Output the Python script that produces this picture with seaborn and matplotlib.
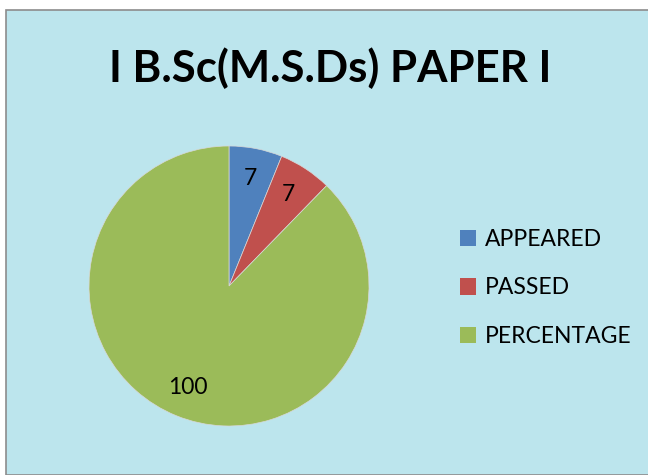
#Pie chart of I B.Sc(M.S.Ds) Paper I results
import matplotlib
matplotlib.use('Agg')
import matplotlib.pyplot as plt
from matplotlib.patches import Rectangle
import seaborn as sns

#data
categories = ['APPEARED', 'PASSED', 'PERCENTAGE']
values = [7, 7, 100]
colors = ['#4F81BD', '#C0504D', '#9BBB59']
title = 'I B.Sc(M.S.Ds) PAPER I'

sns.set_theme(style='white')
plt.rcParams['font.family'] = ['Lato', 'DejaVu Sans']

W, H = 648, 475
fig = plt.figure(figsize=(W/100, H/100), dpi=100)
fig.patch.set_facecolor('white')

#chart area with border
fig.patches.append(Rectangle((6/W, 0), 1, 1 - 10/H, transform=fig.transFigure,
                             facecolor='#BCE5ED', edgecolor='#8C8C8C', linewidth=1.2, zorder=-5))

fig.text(330/W, 1 - 68/H, title, ha='center', va='center', fontsize=31.5, fontweight='bold', color='black')

#pie axes, centre (229,286) radius 140 px
cx, cy, r = 229, 286, 140
ax = fig.add_axes([(cx - r)/W, (H - cy - r)/H, 2*r/W, 2*r/H])
ax.set_zorder(2)
total = sum(values)
wedges, texts, autotexts = ax.pie(values, colors=colors, startangle=90, counterclock=False,
                                  autopct=lambda p: '%d' % round(p*total/100), pctdistance=0.78,
                                  wedgeprops={'linewidth': 0.5, 'edgecolor': '#D8D8D8'},
                                  textprops={'fontsize': 16.5, 'color': 'black'})
ax.set_xlim(-1, 1)
ax.set_ylim(-1, 1)
ax.set_facecolor('none')

leg = fig.legend(wedges, categories, loc='center left', bbox_to_anchor=(460/W, 1 - 288/H),
                 frameon=False, fontsize=16.5, handlelength=0.7, handleheight=0.7,
                 handletextpad=0.4, labelspacing=1.2, borderaxespad=0, borderpad=0)
for t in leg.get_texts():
    t.set_color('black')
for h in leg.legend_handles:
    h.set_linewidth(0)

fig.savefig('out.png', dpi=100)
